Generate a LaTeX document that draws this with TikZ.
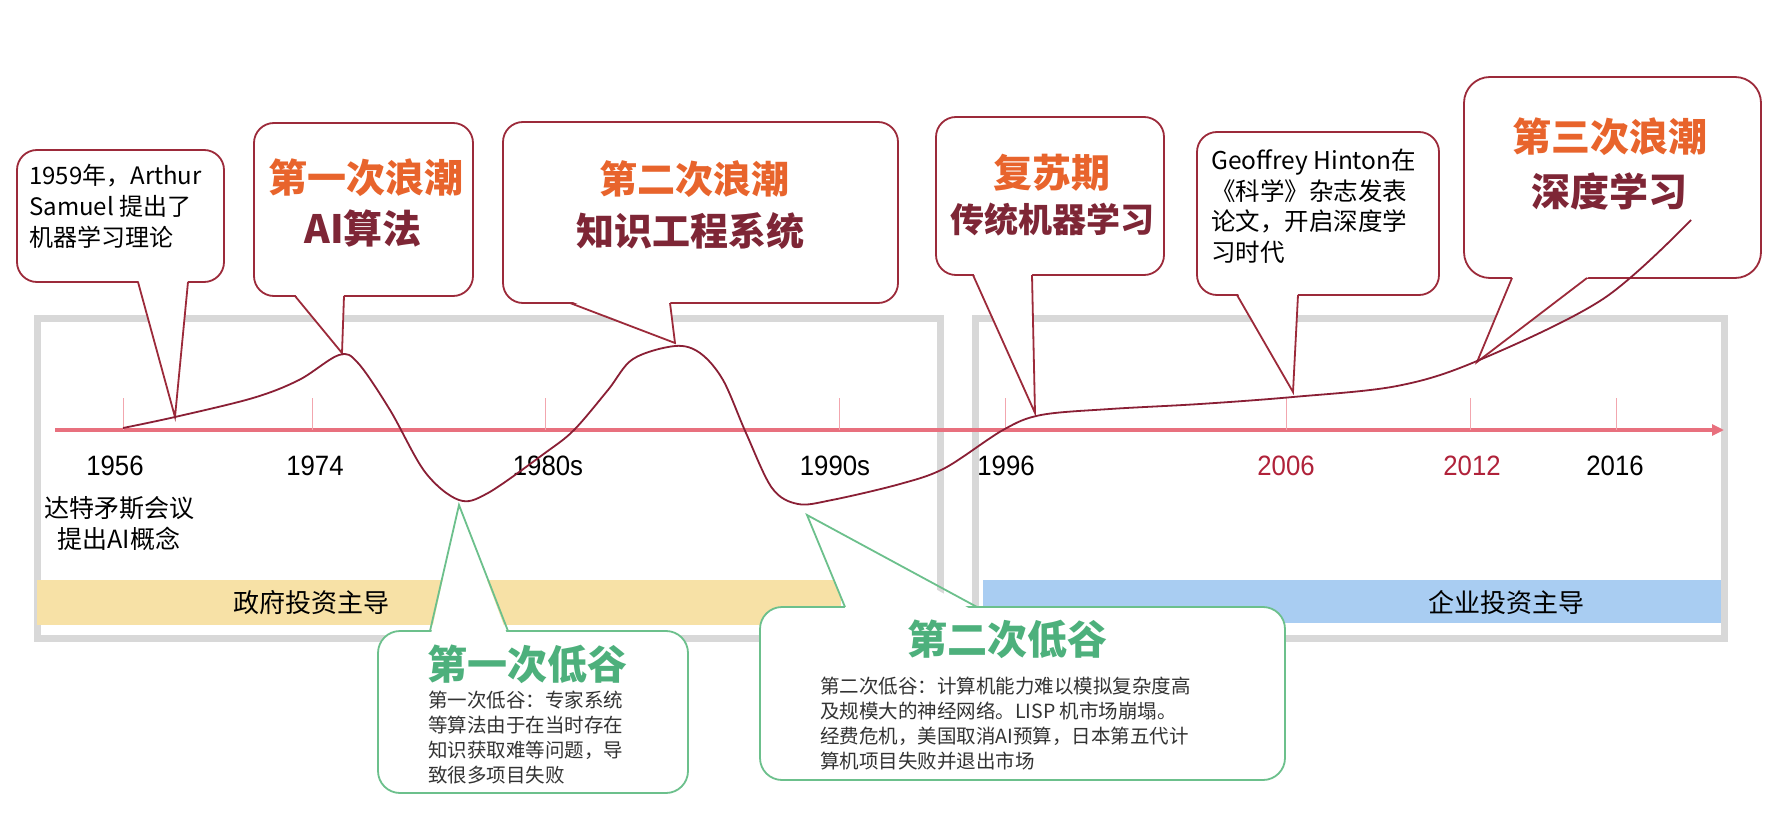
\documentclass[tikz,border=0pt]{standalone}
\usepackage{fontspec}
\setmainfont{Noto Sans CJK SC}
\newfontfamily\yearfont[FakeStretch=0.92]{Liberation Sans}
\usetikzlibrary{arrows.meta}
\definecolor{cred}{HTML}{9C2A3A}
\definecolor{corange}{HTML}{E8642C}
\definecolor{cdark}{HTML}{7E2636}
\definecolor{ccurve}{HTML}{8A1F35}
\definecolor{caxis}{HTML}{E8707E}
\definecolor{ctick}{HTML}{F2A6AE}
\definecolor{cgreenline}{HTML}{6CC08C}
\definecolor{cgreen}{HTML}{4DB07C}
\definecolor{cbody}{HTML}{333333}
\definecolor{cyear}{HTML}{B0223A}
\definecolor{cyellow}{HTML}{F7E1A6}
\definecolor{cblue}{HTML}{A9CDF2}
\definecolor{cframe}{HTML}{D8D8D8}
\begin{document}
\begin{tikzpicture}[x=1pt,y=-1pt,
  redbox/.style={draw=cred, line width=1.8pt, fill=white, rounded corners=20pt, inner sep=0pt},
  greenbox/.style={draw=cgreenline, line width=1.8pt, fill=white, rounded corners=22pt, inner sep=0pt},
  redtail/.style={draw=cred, line width=1.8pt, line join=miter},
  greentail/.style={draw=cgreenline, line width=1.8pt, line join=miter},
  frame/.style={draw=cframe, line width=7pt},
  tickline/.style={draw=ctick, line width=1pt},
  yearlbl/.style={font=\yearfont\fontsize{28}{30}\selectfont, inner sep=0pt},
  title/.style={font=\fontsize{39}{44}\selectfont\bfseries, text=corange, inner sep=0pt},
  sub/.style={font=\fontsize{39}{44}\selectfont\bfseries, text=cdark, inner sep=0pt},
  note/.style={font=\fontsize{24}{31}\selectfont, align=left, inner sep=0pt, anchor=north west, text=black},
  gtitle/.style={font=\fontsize{40}{44}\selectfont\bfseries, text=cgreen, inner sep=0pt},
  gbody/.style={font=\fontsize{19.5}{25}\selectfont, align=left, inner sep=0pt, anchor=north west, text=cbody},
  barlbl/.style={font=\fontsize{26}{30}\selectfont, inner sep=0pt, text=black}
]
\useasboundingbox (0,0) rectangle (1780,834);
\fill[white] (0,0) rectangle (1780,834);

% frames
\node[frame, minimum width=903pt, minimum height=320pt, inner sep=0pt] (leftframe) at (489,478) {};
\node[frame, minimum width=749pt, minimum height=320pt, inner sep=0pt] (rightframe) at (1350,478) {};

% bars
\node[fill=cyellow, minimum width=804pt, minimum height=45pt, inner sep=0pt] (govbar) at (439,602.5) {};
\node[barlbl] (govtxt) at (311,603) {政府投资主导};
\node[fill=cblue, minimum width=738pt, minimum height=43pt, inner sep=0pt] (entbar) at (1352,601.5) {};
\node[barlbl] (enttxt) at (1506,603) {企业投资主导};

% axis
\coordinate (axstart) at (55,430);
\coordinate (axend) at (1724,430);
\draw[caxis, line width=3.5pt, -{Triangle[length=12pt,width=11pt]}] (axstart) -- (axend);

% ticks
\foreach \n/\x in {t1956/123, t1974/312, t1980/545, t1990/839, t1996/1005, t2006/1286, t2012/1470, t2016/1616}{
  \coordinate (\n top) at (\x,398);
  \coordinate (\n bot) at (\x,430);
  \draw[tickline] (\n top) -- (\n bot);
}

% year labels
\node[yearlbl] (y1956) at (115,466) {1956};
\node[yearlbl] (y1974) at (315,466) {1974};
\node[yearlbl] (y1980) at (548,466) {1980s};
\node[yearlbl] (y1990) at (835,466) {1990s};
\node[yearlbl] (y1996) at (1006,466) {1996};
\node[yearlbl, text=cyear] (y2006) at (1286,466) {2006};
\node[yearlbl, text=cyear] (y2012) at (1472,466) {2012};
\node[yearlbl] (y2016) at (1615,466) {2016};

\node[font=\fontsize{25}{31}\selectfont, align=center, inner sep=0pt] (dartmouth) at (119,524) {达特矛斯会议\\提出AI概念};

% ---------- red callouts ----------
% 1
\node[redbox, minimum width=207pt, minimum height=132pt] (c1) at (120.5,216) {};
\coordinate (c1l) at (138,282); \coordinate (c1r) at (188,282); \coordinate (c1tip) at (175,417);
\fill[white] (138,279) -- (c1tip) -- (188,279) -- cycle;
\draw[redtail] (c1l) -- (c1tip) -- (c1r);
\node[note] (c1txt) at (29,164) {1959年，Arthur\\Samuel 提出了\\机器学习理论};

% 2
\node[redbox, minimum width=219pt, minimum height=173pt] (c2) at (363.5,209.5) {};
\coordinate (c2l) at (295,296); \coordinate (c2r) at (344,296); \coordinate (c2tip) at (342,353);
\fill[white] (294,293) -- (c2tip) -- (344,293) -- cycle;
\draw[redtail] (c2l) -- (c2tip) -- (c2r);
\node[title] (c2a) at (366,178) {第一次浪潮};
\node[sub] (c2b) at (363,228) {AI算法};

% 3
\node[redbox, minimum width=395pt, minimum height=181pt] (c3) at (700.5,212.5) {};
\coordinate (c3l) at (570,303); \coordinate (c3r) at (670,303); \coordinate (c3tip) at (675,343);
\fill[white] (568,300) -- (c3tip) -- (670,300) -- cycle;
\draw[redtail] (c3l) -- (c3tip) -- (c3r);
\node[title, font=\fontsize{38}{44}\selectfont\bfseries] (c3a) at (694,179) {第二次浪潮};
\node[sub, font=\fontsize{38}{44}\selectfont\bfseries] (c3b) at (690,231) {知识工程系统};

% 4
\node[redbox, minimum width=228pt, minimum height=158pt] (c4) at (1050,196) {};
\coordinate (c4l) at (973,275); \coordinate (c4r) at (1032,275); \coordinate (c4tip) at (1035,413);
\fill[white] (973,272) -- (c4tip) -- (1032,272) -- cycle;
\draw[redtail] (c4l) -- (c4tip) -- (c4r);
\node[title] (c4a) at (1052,173) {复苏期};
\node[sub, font=\fontsize{34}{40}\selectfont\bfseries] (c4b) at (1052,220) {传统机器学习};

% 5
\node[redbox, minimum width=242pt, minimum height=163pt] (c5) at (1318,213.5) {};
\coordinate (c5l) at (1237,295); \coordinate (c5r) at (1298,295); \coordinate (c5tip) at (1293,392);
\fill[white] (1237,292) -- (c5tip) -- (1298,292) -- cycle;
\draw[redtail] (c5l) -- (c5tip) -- (c5r);
\node[note, font=\fontsize{24.5}{30.5}\selectfont] (c5txt) at (1211,149) {Geoffrey Hinton在\\《科学》杂志发表\\论文，开启深度学\\习时代};

% 6
\node[redbox, minimum width=297pt, minimum height=201pt, rounded corners=26pt] (c6) at (1612.5,177.5) {};
\coordinate (c6l) at (1512,278); \coordinate (c6r) at (1587,278); \coordinate (c6tip) at (1477,362);
\fill[white] (1513,275) -- (c6tip) -- (1591,275) -- cycle;
\draw[redtail] (c6l) -- (c6tip) -- (c6r);
\node[title] (c6a) at (1610,137) {第三次浪潮};
\node[sub] (c6b) at (1609,191) {深度学习};

% ---------- green callouts ----------
\node[greenbox, minimum width=310pt, minimum height=162pt] (g1) at (533,712) {};
\coordinate (g1l) at (430,631); \coordinate (g1r) at (508,631); \coordinate (g1tip) at (459,505);
\fill[white] (431,634) -- (g1tip) -- (507,634) -- cycle;
\draw[greentail] (g1l) -- (g1tip) -- (g1r);
\node[gtitle] (g1a) at (527,664) {第一次低谷};
\node[gbody] (g1txt) at (428,691) {第一次低谷：专家系统\\等算法由于在当时存在\\知识获取难等问题，导\\致很多项目失败};

\node[greenbox, minimum width=525pt, minimum height=173pt] (g2) at (1022.5,693.5) {};
\coordinate (g2l) at (845,607); \coordinate (g2r) at (977,607); \coordinate (g2tip) at (807,515);
\fill[white] (846,610) -- (g2tip) -- (972,610) -- cycle;
\draw[greentail] (g2l) -- (g2tip) -- (g2r);
\node[gtitle] (g2a) at (1007,639) {第二次低谷};
\node[gbody] (g2txt) at (820,677) {第二次低谷：计算机能力难以模拟复杂度高\\及规模大的神经网络。LISP 机市场崩塌。\\经费危机，美国取消AI预算，日本第五代计\\算机项目失败并退出市场};

% ---------- curve ----------
\draw[ccurve, line width=1.8pt] plot[smooth, tension=0.55] coordinates {
 (123,428) (175,417) (253,398) (299,380) (339,355) (358,363) (390,410) (425,472) (459,500)
 (488,493) (545,453) (574,430) (608,390) (633,359) (675,346) (700,353) (723,380) (746,433)
 (772,488) (798,504) (832,500) (900,484) (945,468) (1003,430) (1041,415) (1110,409)
 (1200,404) (1293,397) (1397,386) (1477,361) (1603,299) (1691,220)};
\end{tikzpicture}
\end{document}
